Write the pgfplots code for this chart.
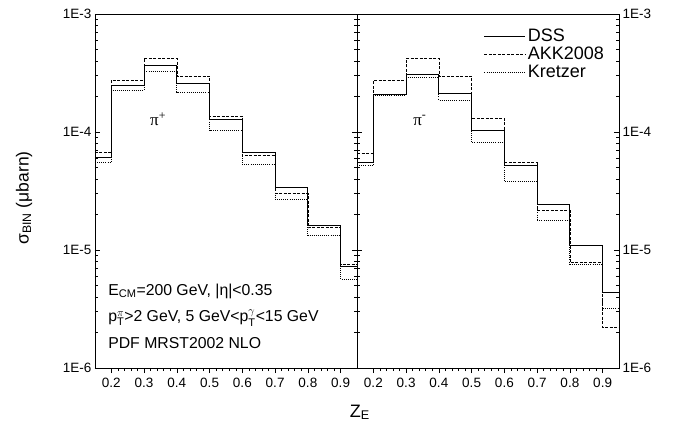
\documentclass[border=0pt]{standalone}
\usepackage{fontspec}
\setmainfont{Liberation Sans}
\newfontfamily\serif{Liberation Serif}
\usepackage{pgfplots}
\pgfplotsset{compat=1.18}
\begin{document}
\begin{tikzpicture}
\path[use as bounding box] (-95pt,-63pt) rectangle (583pt,368pt);
\begin{axis}[scale only axis, width=262pt, height=354pt,
  ymode=log, ymin=1e-6, ymax=1e-3, xmin=0.15, xmax=0.95,
  xtick={0.2,0.3,0.4,0.5,0.6,0.7,0.8,0.9},
  xticklabels={0.2,0.3,0.4,0.5,0.6,0.7,0.8,0.9},
  minor x tick num=4,
  ytick={1e-6,1e-5,1e-4,1e-3},
  yticklabels={1E-6,1E-5,1E-4,1E-3},
  xtick pos=left, ytick pos=both,
  tick align=inside,
  major tick length=5pt, minor tick length=3pt,
  every major x tick/.append style={yshift=-5pt}, every minor x tick/.append style={yshift=-3pt},
  xticklabel style={yshift=-7pt},
  tick label style={font=\fontsize{13.5}{16}\selectfont},
  axis line style={line width=0.8pt},
  tick style={line width=0.6pt, black},
  clip=false,
  at={(0pt,0pt)}, anchor=south west,
  yticklabel pos=left,
  ylabel={σ\textsubscript{BIN} (μbarn)},
  ylabel style={at={(axis description cs:-0.271,0.48)}, anchor=center, font=\fontsize{17.5}{20}\selectfont},
  xlabel={Z\textsubscript{E}},
  xlabel style={at={(axis description cs:1.011,-0.125)}, anchor=center, font=\fontsize{18}{21}\selectfont},
]
\addplot[black, line width=0.9pt, const plot mark left] coordinates {(0.15,6.1e-5) (0.2,2.47e-4) (0.3,3.65e-4) (0.4,2.57e-4) (0.5,1.29e-4) (0.6,6.7e-5) (0.7,3.37e-5) (0.8,1.63e-5) (0.9,7.2e-6) (0.95,7.2e-6)};
\addplot[black, line width=0.7pt, dash pattern=on 3pt off 1.5pt, const plot mark left] coordinates {(0.15,6.7e-5) (0.2,2.74e-4) (0.3,4.24e-4) (0.4,2.96e-4) (0.5,1.37e-4) (0.6,6.3e-5) (0.7,3.02e-5) (0.8,1.55e-5) (0.9,7.5e-6) (0.95,7.5e-6)};
\addplot[black, line width=0.8pt, dash pattern=on 0.9pt off 1.2pt, const plot mark left] coordinates {(0.15,5.5e-5) (0.2,2.27e-4) (0.3,3.27e-4) (0.4,2.18e-4) (0.5,1.03e-4) (0.6,5.3e-5) (0.7,2.7e-5) (0.8,1.32e-5) (0.9,5.65e-6) (0.95,5.65e-6)};
\node[anchor=base west, inner sep=0pt, font=\fontsize{17}{20}\selectfont\serif] at (axis description cs:0.21,0.684) {π\textsuperscript{+}};
\node[anchor=base west, inner sep=0pt, font=\fontsize{15.8}{18}\selectfont] at (axis description cs:0.05,0.206) {E\textsubscript{CM}=200 GeV, |η|<0.35};
\node[anchor=base west, inner sep=0pt, font=\fontsize{15.8}{18}\selectfont] at (axis description cs:0.05,0.130) {$\mathrm{p}_{\mathrm{T}}^{\pi}$>2 GeV, 5 GeV<$\mathrm{p}_{\mathrm{T}}^{\gamma}$<15 GeV};
\node[anchor=base west, inner sep=0pt, font=\fontsize{15.8}{18}\selectfont] at (axis description cs:0.05,0.0565) {PDF MRST2002 NLO};
\end{axis}
\begin{axis}[scale only axis, width=262pt, height=354pt,
  ymode=log, ymin=1e-6, ymax=1e-3, xmin=0.15, xmax=0.95,
  xtick={0.2,0.3,0.4,0.5,0.6,0.7,0.8,0.9},
  xticklabels={0.2,0.3,0.4,0.5,0.6,0.7,0.8,0.9},
  minor x tick num=4,
  ytick={1e-6,1e-5,1e-4,1e-3},
  yticklabels={1E-6,1E-5,1E-4,1E-3},
  xtick pos=left, ytick pos=both,
  tick align=inside,
  major tick length=5pt, minor tick length=3pt,
  every major x tick/.append style={yshift=-5pt}, every minor x tick/.append style={yshift=-3pt},
  xticklabel style={yshift=-7pt},
  tick label style={font=\fontsize{13.5}{16}\selectfont},
  axis line style={line width=0.8pt},
  tick style={line width=0.6pt, black},
  clip=false,
  at={(262pt,0pt)}, anchor=south west,
  yticklabel pos=right,
  legend style={draw=none, fill=none, at={(axis description cs:0.48,0.966)}, anchor=north west,
    font=\fontsize{18}{21}\selectfont, row sep=0pt, inner sep=1pt},
  legend cell align=left,
  legend image code/.code={\draw[#1] (0pt,0pt) -- (41pt,0pt);},
]
\addplot[black, line width=0.9pt, const plot mark left] coordinates {(0.15,5.5e-5) (0.2,2.08e-4) (0.3,3.1e-4) (0.4,2.13e-4) (0.5,1.03e-4) (0.6,5.2e-5) (0.7,2.42e-5) (0.8,1.09e-5) (0.9,4.35e-6) (0.95,4.35e-6)};
\addlegendentry{DSS}
\addplot[black, line width=0.7pt, dash pattern=on 3pt off 1.5pt, const plot mark left] coordinates {(0.15,6.6e-5) (0.2,2.74e-4) (0.3,4.2e-4) (0.4,2.96e-4) (0.5,1.31e-4) (0.6,5.5e-5) (0.7,2.15e-5) (0.8,7.8e-6) (0.9,2.2e-6) (0.95,2.2e-6)};
\addlegendentry{AKK2008}
\addplot[black, line width=0.8pt, dash pattern=on 0.9pt off 1.2pt, const plot mark left] coordinates {(0.15,5.2e-5) (0.2,2.06e-4) (0.3,2.9e-4) (0.4,1.87e-4) (0.5,8.1e-5) (0.6,3.8e-5) (0.7,1.77e-5) (0.8,7.6e-6) (0.9,3.2e-6) (0.95,3.2e-6)};
\addlegendentry{Kretzer}
\node[anchor=base west, inner sep=0pt, font=\fontsize{17}{20}\selectfont\serif] at (axis description cs:0.214,0.686) {π\textsuperscript{-}};
\end{axis}
\end{tikzpicture}
\end{document}
